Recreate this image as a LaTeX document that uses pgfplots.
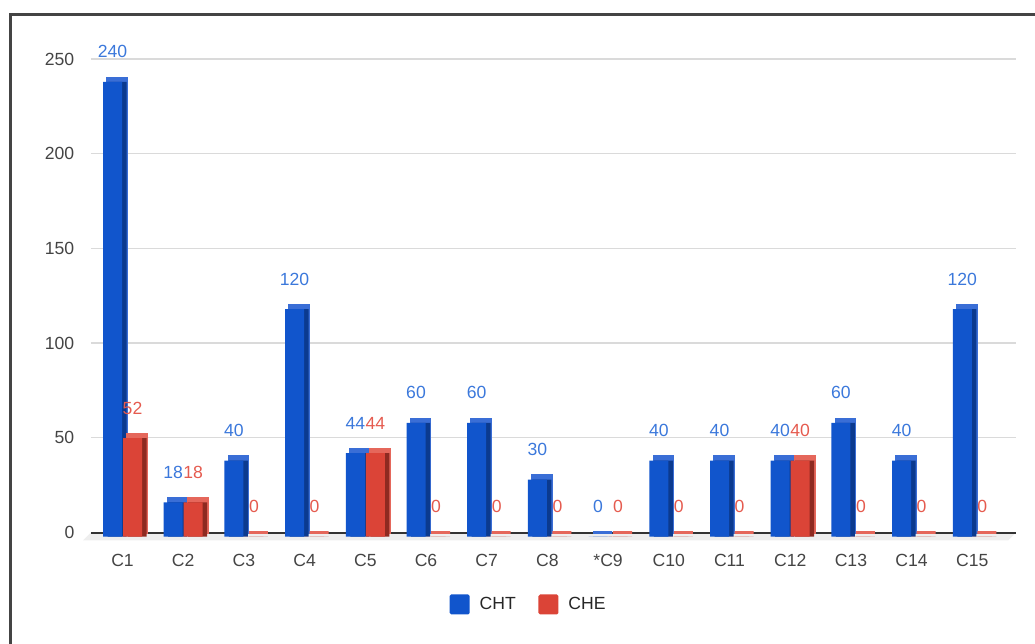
\documentclass[border=0pt]{standalone}
\usepackage{fontspec}
\setmainfont{Liberation Sans}
\usepackage{pgfplots}
\usepackage{pgfplotstable}
\pgfplotsset{compat=1.18}
\definecolor{cBlue}{HTML}{1155CC}
\definecolor{cBlueTop}{HTML}{3A6ED6}
\definecolor{cBlueSide}{HTML}{0B3A8F}
\definecolor{cRed}{HTML}{DB4437}
\definecolor{cRedTop}{HTML}{E5675B}
\definecolor{cRedSide}{HTML}{8E2A21}
\definecolor{cBlueLbl}{HTML}{3B78DB}
\definecolor{cRedLbl}{HTML}{E55B4F}
\definecolor{cTick}{HTML}{444444}
\definecolor{cGrid}{HTML}{DADADA}
\definecolor{cFrame}{HTML}{444444}
\definecolor{cAxis}{HTML}{333333}
\definecolor{cFloor}{HTML}{EEEEEE}

\pgfplotstableread{
x cht che
0 240 52
1 18 18
2 40 0
3 120 0
4 44 44
5 60 0
6 60 0
7 30 0
8 0 0
9 40 0
10 40 0
11 40 40
12 60 0
13 40 0
14 120 0
}\data

\newcommand{\lblfont}{\fontsize{13.2}{15}\selectfont}

\begin{document}
\begin{tikzpicture}
\path[use as bounding box] (0pt,0pt) rectangle (776.25pt,482.25pt);
\draw[color=cFrame, line width=2pt] (7.875pt,-15pt) -- (7.875pt,471.3pt) -- (800pt,471.3pt);
\begin{axis}[
  at={(68.25pt,82.875pt)}, anchor=south west,
  scale only axis, width=693.75pt, height=355.125pt,
  xmin=-0.519, xmax=14.72, ymin=0, ymax=250,
  clip=false,
  axis line style={draw=none},
  major tick length=0pt,
  ytick={0,50,...,250},
  ymajorgrids, grid style={line width=1pt, color=cGrid},
  xtick={0,...,14},
  xticklabels={C1,C2,C3,C4,C5,C6,C7,C8,*C9,C10,C11,C12,C13,C14,C15},
  tick label style={font=\lblfont, text=cTick},
  /pgf/number format/assume math mode=true,
  yticklabel style={xshift=-9pt},
  xticklabel style={yshift=-12.6pt},
  legend image code/.code={\fill[#1, draw=none, rounded corners=1.2pt] (0pt,-7.5pt) rectangle (15pt,7.5pt);},
  legend style={at={(0.4735,-0.152)}, anchor=center, draw=none, fill=none,
    font=\lblfont, text=black!85, legend columns=-1,
    /tikz/every odd column/.append style={column sep=5.5pt},
    /tikz/every even column/.append style={column sep=15pt}},
]
% floor and base line
\fill[cFloor] (axis cs:-0.519,0) -- (axis cs:14.72,0) -- (axis cs:14.59,-4.2) -- (axis cs:-0.651,-4.2) -- cycle;
\draw[cAxis, line width=1.5pt] (axis cs:-0.519,0) -- (axis cs:14.72,0);
% CHT
\addplot[ybar, forget plot, bar width=14.25pt, bar shift=-4.1pt, fill=cBlueTop, draw=cBlueTop, line width=2pt,
  nodes near coords, nodes near coords style={anchor=base, xshift=-7.5pt, yshift=15pt, text=cBlueLbl, font=\lblfont}]
  table[x=x,y=cht]{\data};
\addplot[ybar, forget plot, bar width=14.25pt, bar shift=-4.1pt, yshift=-3pt, fill=cBlueSide, draw=none]
  table[x=x,y=cht]{\data};
\addplot[ybar, forget plot, bar width=14.25pt, bar shift=-7.5pt, yshift=-3pt, fill=cBlue, draw=none]
  table[x=x,y=cht]{\data};
% CHE
\addplot[ybar, forget plot, bar width=14.25pt, bar shift=10.9pt, fill=cRedTop, draw=cRedTop, line width=2pt,
  nodes near coords, nodes near coords style={anchor=base, xshift=7.5pt, yshift=15pt, text=cRedLbl, font=\lblfont}]
  table[x=x,y=che]{\data};
\addplot[ybar, forget plot, bar width=14.25pt, bar shift=10.9pt, yshift=-3pt, fill=cRedSide, draw=none]
  table[x=x,y=che]{\data};
\addplot[ybar, forget plot, bar width=14.25pt, bar shift=7.5pt, yshift=-3pt, fill=cRed, draw=none]
  table[x=x,y=che]{\data};
\addlegendimage{fill=cBlue}
\addlegendentry{CHT}
\addlegendimage{fill=cRed}
\addlegendentry{CHE}
\end{axis}
\end{tikzpicture}
\end{document}
